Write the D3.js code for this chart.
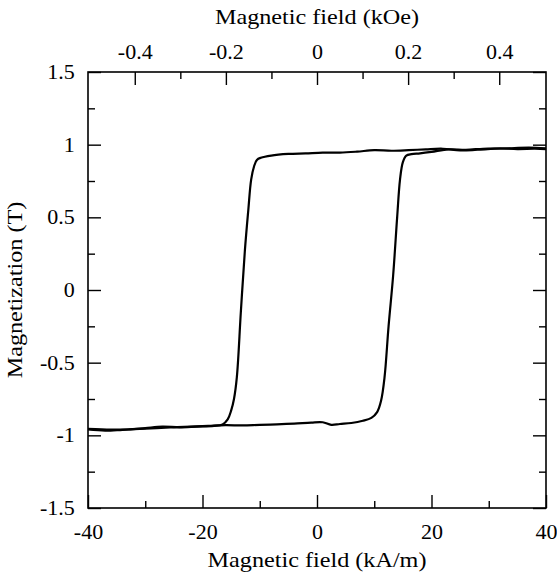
<!DOCTYPE html>
<html><head><meta charset="utf-8">
<script src="https://cdn.jsdelivr.net/npm/d3@7"></script>
<style>
body{margin:0;background:#fff;}
svg, svg text, svg .tick text, text { font-family: 'Liberation Serif', 'Times New Roman', Tinos, serif !important; }
</style></head>
<body><svg id="c" width="557" height="574" font-family="'Liberation Serif'"></svg>
<script>
// Data
const downH = [40, 37, 34, 31, 28, 25, 22, 19, 16, 13, 10, 7, 4, 1, -2, -5, -8, -9.8, -10.5, -11, -11.5, -12, -12.6, -13.3, -14, -14.5, -15, -15.6, -16.5, -18, -21, -24, -27, -30, -33, -36, -40];
const downM = [0.975, 0.98, 0.975, 0.972, 0.965, 0.96, 0.972, 0.968, 0.962, 0.958, 0.962, 0.952, 0.945, 0.945, 0.94, 0.936, 0.925, 0.91, 0.895, 0.85, 0.76, 0.55, 0.27, -0.15, -0.6, -0.75, -0.83, -0.89, -0.925, -0.935, -0.94, -0.945, -0.94, -0.95, -0.96, -0.96, -0.955];
const upH = [-40, -37, -34, -31, -28, -25, -22, -19, -16, -13, -10, -7, -4, -1, 1, 2.5, 4, 6, 8, 9.5, 10.5, 11.2, 11.8, 12.5, 13.3, 14, 14.5, 15, 15.6, 16.5, 18, 20, 23, 26, 29, 32, 35, 38, 40];
const upM = [-0.96, -0.968, -0.962, -0.955, -0.95, -0.945, -0.94, -0.935, -0.93, -0.932, -0.928, -0.925, -0.92, -0.912, -0.91, -0.928, -0.922, -0.915, -0.9, -0.88, -0.84, -0.76, -0.6, -0.25, 0.1, 0.5, 0.76, 0.88, 0.925, 0.935, 0.94, 0.95, 0.968, 0.965, 0.972, 0.975, 0.97, 0.972, 0.97];
const xMajor = [-40, -20, 0, 20, 40];
const xMinor = [-30, -10, 10, 30];
const topMajor = [-0.4, -0.2, 0, 0.2, 0.4];
const topMinor = [-0.3, -0.1, 0.1, 0.3];
const yMajor = [-1.5, -1, -0.5, 0, 0.5, 1, 1.5];
const yMinor = [-1.25, -0.75, -0.25, 0.25, 0.75, 1.25];
const KA_PER_KOE = 79.577;

const FONT = "'Liberation Serif'";
const L = 88, R = 546, T = 72, B = 508;
const svg = d3.select("#c");
const x = d3.scaleLinear().domain([-40, 40]).range([L, R]);
const xt = d3.scaleLinear().domain([-40 / KA_PER_KOE, 40 / KA_PER_KOE]).range([L, R]);
const y = d3.scaleLinear().domain([-1.5, 1.5]).range([B, T]);
const fmt = d => String(d);
const FS = 20, WIDE = 1.1;

function styleAxis(g){
  g.attr("font-family", FONT).attr("font-size", null);
  g.select(".domain").remove();
  g.selectAll("line").attr("stroke", "#000").attr("stroke-width", 1.4);
  g.selectAll("text").attr("font-family", FONT).style("font-size", FS + "px")
    .attr("fill", "#000").attr("transform", `scale(${WIDE},1)`);
}

// bottom
svg.append("g").attr("transform", `translate(0,${B})`)
  .call(d3.axisBottom(x).tickValues(xMajor).tickSize(-13).tickPadding(17).tickFormat(fmt)).call(styleAxis);
svg.append("g").attr("transform", `translate(0,${B})`)
  .call(d3.axisBottom(x).tickValues(xMinor).tickSize(-7).tickFormat("")).call(styleAxis);
// top
svg.append("g").attr("transform", `translate(0,${T})`)
  .call(d3.axisTop(xt).tickValues(topMajor).tickSize(-13).tickPadding(13).tickFormat(fmt)).call(styleAxis);
svg.append("g").attr("transform", `translate(0,${T})`)
  .call(d3.axisTop(xt).tickValues(topMinor).tickSize(-7).tickFormat("")).call(styleAxis);
// left
svg.append("g").attr("transform", `translate(${L},0)`)
  .call(d3.axisLeft(y).tickValues(yMajor).tickSize(-13).tickPadding(12).tickFormat(fmt)).call(styleAxis);
svg.append("g").attr("transform", `translate(${L},0)`)
  .call(d3.axisLeft(y).tickValues(yMinor).tickSize(-7).tickFormat("")).call(styleAxis);
// right
svg.append("g").attr("transform", `translate(${R},0)`)
  .call(d3.axisRight(y).tickValues(yMajor).tickSize(-13).tickFormat("")).call(styleAxis);
svg.append("g").attr("transform", `translate(${R},0)`)
  .call(d3.axisRight(y).tickValues(yMinor).tickSize(-7).tickFormat("")).call(styleAxis);

// frame
svg.append("rect").attr("x", L).attr("y", T).attr("width", R - L).attr("height", B - T)
  .attr("fill", "none").attr("stroke", "#000").attr("stroke-width", 1.6);

// curves
const line = d3.line().x(d => x(d[0])).y(d => y(d[1])).curve(d3.curveCatmullRom.alpha(0.5));
svg.append("path").datum(downH.map((h, i) => [h, downM[i]]))
  .attr("d", line).attr("fill", "none").attr("stroke", "#000").attr("stroke-width", 2.2);
svg.append("path").datum(upH.map((h, i) => [h, upM[i]]))
  .attr("d", line).attr("fill", "none").attr("stroke", "#000").attr("stroke-width", 2.2);

// titles
function title(sel){ return sel.attr("font-family", FONT).style("font-size", "22px").attr("fill", "#000"); }
const cx = (L + R) / 2;
svg.append("text").attr("transform", `translate(${cx},567) scale(${WIDE},1)`).attr("text-anchor", "middle")
  .call(title).text("Magnetic field (kA/m)");
svg.append("text").attr("transform", `translate(${cx},24) scale(${WIDE},1)`).attr("text-anchor", "middle")
  .call(title).text("Magnetic field (kOe)");
svg.append("text").attr("transform", `translate(22,${(T + B) / 2}) rotate(-90) scale(${WIDE},1)`).attr("text-anchor", "middle")
  .call(title).text("Magnetization (T)");
</script></body></html>
